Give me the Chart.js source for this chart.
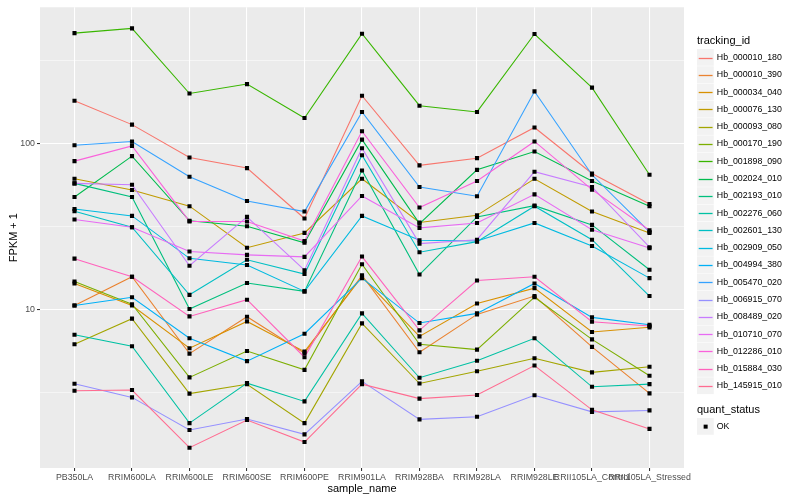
<!DOCTYPE html>
<html>
<head>
<meta charset="utf-8">
<script src="https://cdn.jsdelivr.net/npm/chart.js@4/dist/chart.umd.min.js"></script>
<style>
  html,body{margin:0;padding:0;background:#fff}
  #wrap{width:800px;height:500px}
</style>
</head>
<body>
<div id="wrap"><canvas id="c" width="800" height="500"></canvas></div>
<script>
/* categorias eje x */
const samples = ['PB350LA','RRIM600LA','RRIM600LE','RRIM600SE','RRIM600PE','RRIM901LA',
                 'RRIM928BA','RRIM928LA','RRIM928LE','RRII105LA_Control','RRII105LA_Stressed'];

/* ticks eje y (log) */
const yMajor = [10, 100];
const yMinor = [3.1623, 31.623, 316.23];

/* series: FPKM + 1 por muestra */
const hb000010_180 = [181, 130, 82.5, 71.2, 35.4, 194, 73.9, 81.7, 125, 66.1, 43.3];
const hb000010_390 = [10.6, 15.8, 5.45, 9.08, 5.48, 16.1, 5.55, 9.38, 12.1, 5.98, 3.14];
const hb000034_040 = [14.4, 10.6, 5.87, 8.51, 5.60, 15.8, 6.92, 10.9, 13.5, 7.35, 7.84];
const hb000076_130 = [61.4, 52.6, 42.0, 23.6, 29.0, 61.4, 33.5, 37.0, 61.4, 39.0, 29.0];
const hb000093_080 = [6.2, 8.84, 3.13, 3.56, 2.08, 8.28, 3.60, 4.27, 5.11, 4.20, 4.54];
const hb000170_190 = [14.8, 10.8, 3.92, 5.65, 4.35, 18.8, 6.20, 5.76, 11.9, 6.64, 4.01];
const hb001898_090 = [462, 493, 200, 228, 142.5, 458, 169, 155, 456, 217, 64.9];
const hb002024_010 = [47.7, 84.0, 34.3, 31.8, 25.3, 105.6, 33.0, 69.5, 89.6, 59.5, 42.0];
const hb002193_010 = [57.6, 47.7, 10.1, 14.5, 12.9, 68.9, 16.3, 36.2, 42.3, 32.4, 17.4];
const hb002276_060 = [7.08, 6.03, 2.08, 3.62, 2.81, 9.51, 3.90, 4.93, 6.74, 3.44, 3.57];
const hb002601_130 = [39.2, 31.4, 12.3, 20.0, 16.4, 85.1, 22.2, 25.7, 42.0, 26.4, 12.1];
const hb002909_050 = [40.4, 36.7, 20.4, 18.6, 12.9, 36.7, 26.2, 25.9, 33.3, 24.2, 15.5];
const hb004994_380 = [10.6, 11.9, 6.74, 4.91, 7.18, 15.5, 8.32, 9.51, 14.4, 9.0, 8.13];
const hb005470_020 = [97.7, 102.8, 63.1, 45.1, 39.0, 155, 54.8, 48.2, 206, 64.9, 29.4];
const hb006915_070 = [3.59, 2.97, 1.89, 2.20, 1.78, 3.71, 2.19, 2.27, 3.06, 2.43, 2.48];
const hb008489_020 = [57.6, 56.5, 18.4, 36.2, 17.3, 93.8, 25.0, 26.4, 67.7, 54.8, 23.8];
const hb010710_070 = [34.9, 31.4, 22.4, 21.4, 20.8, 48.4, 31.1, 33.3, 49.5, 30.3, 23.5];
const hb012286_010 = [78.4, 96.8, 34.0, 34.0, 25.9, 118.6, 41.2, 59.5, 103, 52.8, 30.1];
const hb015884_030 = [20.3, 15.8, 9.12, 11.5, 5.18, 20.9, 7.52, 15.0, 15.8, 8.48, 7.98];
const hb145915_010 = [3.26, 3.29, 1.48, 2.17, 1.60, 3.57, 2.92, 3.07, 4.62, 2.50, 1.92];

const trackingIds = ['Hb_000010_180','Hb_000010_390','Hb_000034_040','Hb_000076_130','Hb_000093_080',
  'Hb_000170_190','Hb_001898_090','Hb_002024_010','Hb_002193_010','Hb_002276_060','Hb_002601_130',
  'Hb_002909_050','Hb_004994_380','Hb_005470_020','Hb_006915_070','Hb_008489_020','Hb_010710_070',
  'Hb_012286_010','Hb_015884_030','Hb_145915_010'];
const seriesValues = [hb000010_180,hb000010_390,hb000034_040,hb000076_130,hb000093_080,hb000170_190,
  hb001898_090,hb002024_010,hb002193_010,hb002276_060,hb002601_130,hb002909_050,hb004994_380,
  hb005470_020,hb006915_070,hb008489_020,hb010710_070,hb012286_010,hb015884_030,hb145915_010];
const quantStatus = ['OK'];

/* paleta hue de ggplot (20 niveles) */
const colors = ['#F8766D','#EA8331','#D89000','#C09B00','#A3A500','#7CAE00','#39B600','#00BB4E',
  '#00BF7D','#00C1A3','#00BFC4','#00BAE0','#00B0F6','#35A2FF','#9590FF','#C77CFF','#E76BF3',
  '#FA62DB','#FF62BC','#FF6C91'];

const FONT = '"Liberation Sans", Arial, sans-serif';

/* fondo gris del panel */
const panelBg = {
  id:'panelBg',
  beforeDraw(ch){
    const a = ch.chartArea, c = ch.ctx;
    c.save(); c.fillStyle='#EBEBEB';
    c.fillRect(a.left, a.top, a.right-a.left, a.bottom-a.top);
    c.restore();
  }
};

/* leyendas estilo ggplot */
const ggLegend = {
  id:'ggLegend',
  afterDraw(ch){
    const c = ch.ctx, x0 = 697, key = 17.28;
    c.save();
    c.textBaseline='middle'; c.textAlign='left';
    c.fillStyle='#000'; c.font='11px '+FONT;
    c.fillText('tracking_id', x0, 40.7);
    trackingIds.forEach((id,i)=>{
      const top = 49 + i*key, cy = Math.round(top + key/2) + 0.5;
      c.fillStyle='#F2F2F2'; c.fillRect(x0, top, key-0.5, key-0.5);
      c.strokeStyle=colors[i]; c.lineWidth=1.3;
      c.beginPath(); c.moveTo(x0+1.7, cy); c.lineTo(x0+key-1.7, cy); c.stroke();
      c.fillStyle='#000'; c.font='8.8px '+FONT;
      c.fillText(id, x0+key+2.5, top + key/2);
    });
    c.font='11px '+FONT; c.fillStyle='#000';
    c.fillText('quant_status', x0, 409.5);
    quantStatus.forEach((q,i)=>{
      const top = 418 + i*key, cy = top + key/2;
      c.fillStyle='#F2F2F2'; c.fillRect(x0, top, key-0.5, key-0.5);
      c.fillStyle='#000'; c.fillRect(x0+key/2-2, cy-2, 4, 4);
      c.font='8.8px '+FONT;
      c.fillText(q, x0+key+2.5, cy);
    });
    c.restore();
  }
};

const datasets = seriesValues.map((vals,i)=>({
  label: trackingIds[i],
  data: vals.map((v,j)=>({x:j, y:v})),
  borderColor: colors[i],
  borderWidth: 1.07,
  pointRadius: 0,
  tension: 0,
  order: -i
}));
/* puntos encima de todas las lineas */
datasets.push({
  label:'points',
  data: seriesValues.flatMap(vals=>vals.map((v,j)=>({x:j, y:v}))),
  showLine:false,
  pointStyle:'rect',
  pointRadius:2.9,
  pointBackgroundColor:'#000',
  pointBorderWidth:0,
  order:-100
});

new Chart(document.getElementById('c'),{
  type:'line',
  data:{datasets},
  options:{
    responsive:false,
    animation:false,
    layout:{padding:{left:0, top:5, right:116, bottom:0}},
    plugins:{legend:{display:false}, tooltip:{enabled:false}},
    scales:{
      x:{
        type:'linear', min:-0.6, max:10.6,
        afterBuildTicks: s => { s.ticks = samples.map((_,i)=>({value:i})); },
        afterFit: s => { s.height = 32; },
        grid:{color:'#FFFFFF', lineWidth:1.07, tickColor:'#333333', tickLength:3, tickWidth:1.07},
        border:{display:false},
        ticks:{autoSkip:false, maxRotation:0, minRotation:0, padding:1,
               color:'#4D4D4D', font:{size:8.8, family:FONT},
               callback: v => samples[v]},
        title:{display:true, text:'sample_name', color:'#000',
               font:{size:11, family:FONT}, padding:{top:0, bottom:4}}
      },
      y:{
        type:'logarithmic', min:Math.pow(10,0.048), max:Math.pow(10,2.82),
        afterBuildTicks: s => {
          s.ticks = yMinor.concat(yMajor).sort((a,b)=>a-b).map(v=>({value:v}));
        },
        afterFit: s => { s.width = 40; },
        grid:{color:'#FFFFFF',
              lineWidth: ctx => yMajor.includes(ctx.tick && ctx.tick.value) ? 1.07 : 0.53,
              tickColor: ctx => yMajor.includes(ctx.tick && ctx.tick.value) ? '#333333' : 'rgba(0,0,0,0)',
              tickLength:3, tickWidth:1.07},
        border:{display:false},
        ticks:{padding:2, color:'#4D4D4D', font:{size:8.8, family:FONT},
               callback: v => yMajor.includes(v) ? String(v) : ''},
        title:{display:true, text:'FPKM + 1', color:'#000',
               font:{size:11, family:FONT}, padding:{top:7, bottom:0}}
      }
    }
  },
  plugins:[panelBg, ggLegend]
});
</script>
</body>
</html>
